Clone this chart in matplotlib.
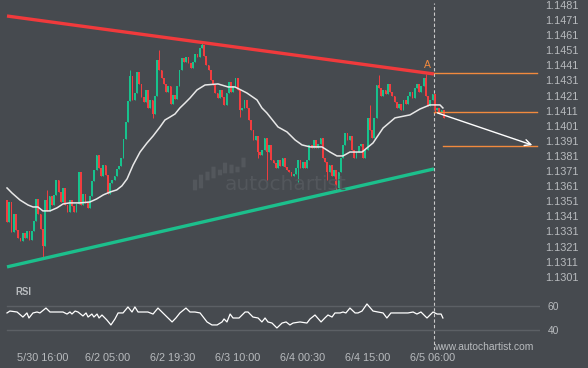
import matplotlib
matplotlib.use('Agg')
import matplotlib.pyplot as plt
from matplotlib.patches import FancyBboxPatch
import numpy as np

# ---- data (30 min candles, index 0 = first candle) ----

first_open = 1.13518
closes = [
    1.13373, 1.13505, 1.13307, 1.13426, 1.13320, 1.13267, 1.13247, 1.13300, 1.13267, 1.13313,
    1.13254, 1.13313, 1.13379, 1.13525, 1.13426, 1.13326, 1.13214, 1.13518, 1.13446, 1.13545,
    1.13485, 1.13552, 1.13651, 1.13571, 1.13505, 1.13598, 1.13485, 1.13439, 1.13518, 1.13479,
    1.13439, 1.13492, 1.13704, 1.13485, 1.13558, 1.13499, 1.13466, 1.13545, 1.13644, 1.13717,
    1.13817, 1.13730, 1.13677, 1.13750, 1.13684, 1.13558, 1.13631, 1.13651, 1.13677, 1.13724,
    1.13744, 1.13797, 1.13922, 1.14035, 1.14174, 1.14340, 1.14181, 1.14227, 1.14366, 1.14287,
    1.14201, 1.14168, 1.14247, 1.14128, 1.14181, 1.14088, 1.14207, 1.14446, 1.14379, 1.14326,
    1.14287, 1.14234, 1.14273, 1.14154, 1.14214, 1.14187, 1.14273, 1.14379, 1.14459, 1.14432,
    1.14466, 1.14426, 1.14393, 1.14432, 1.14485, 1.14466, 1.14525, 1.14545, 1.14472, 1.14413,
    1.14379, 1.14313, 1.14280, 1.14227, 1.14194, 1.14247, 1.14201, 1.14148, 1.14227, 1.14300,
    1.14234, 1.14273, 1.14326, 1.14247, 1.14115, 1.14128, 1.14181, 1.14128, 1.14048, 1.13982,
    1.13916, 1.13942, 1.13836, 1.13817, 1.13850, 1.13929, 1.13836, 1.13883, 1.13783, 1.13764,
    1.13730, 1.13783, 1.13744, 1.13797, 1.13737, 1.13717, 1.13704, 1.13677, 1.13691, 1.13730,
    1.13783, 1.13730, 1.13770, 1.13730, 1.13783, 1.13883, 1.13863, 1.13916, 1.13863, 1.13889,
    1.13929, 1.13797, 1.13770, 1.13704, 1.13750, 1.13677, 1.13717, 1.13598, 1.13704, 1.13797,
    1.13883, 1.13962, 1.13916, 1.13942, 1.13850, 1.13797, 1.13836, 1.13876, 1.13889, 1.13797,
    1.13850, 1.14062, 1.13982, 1.13929, 1.14062, 1.14280, 1.14260, 1.14207, 1.14247, 1.14220,
    1.14287, 1.14234, 1.14207, 1.14168, 1.14128, 1.14154, 1.14115, 1.14181, 1.14154, 1.14207,
    1.14234, 1.14194, 1.14260, 1.14287, 1.14234, 1.14273, 1.14326, 1.14207, 1.14141, 1.14181,
    1.14220, 1.14115, 1.14128, 1.14101, 1.14115, 1.14062,
]

# long wicks
hi_idx = [18, 55, 68, 87, 162, 166, 187]
hi_val = [1.13585, 1.14380, 1.14512, 1.14558, 1.14148, 1.14347, 1.14353]
lo_idx = [16, 65, 104, 112, 116, 130, 143, 147, 191]
lo_val = [1.13135, 1.14062, 1.14068, 1.13797, 1.13651, 1.13638, 1.13651, 1.13572, 1.14095]

# moving average (white line)
ma_idx = [0, 2.2, 5.8, 9.4, 11.6, 13.8, 16, 19.2, 22.3, 25, 28, 32.6, 37, 40, 43, 46, 49, 51.3,
          53.6, 56.3, 59.4, 62.5, 65.2, 68.3, 70.5, 72.8, 75, 77.2, 79.5, 81.7, 84.8, 88.4, 94.2,
          98.7, 101.8, 107.1, 111.6, 113.8, 116, 121, 125, 128.6, 131.7, 135.3, 140.6, 144.2,
          147.3, 150, 153.1, 158.5, 160.7, 163.4, 167.9, 173.2, 179.9, 184.4, 188.8, 193.3, 194.6]
ma_val = [1.13598, 1.13565, 1.13518, 1.13485, 1.13472, 1.13472, 1.13446, 1.13446, 1.13466,
          1.13492, 1.13499, 1.13499, 1.13505, 1.13525, 1.13552, 1.13571, 1.13585, 1.13612,
          1.13658, 1.13750, 1.13836, 1.13896, 1.13942, 1.14002, 1.14048, 1.14068, 1.14088,
          1.14128, 1.14161, 1.14194, 1.14247, 1.14280, 1.14287, 1.14267, 1.14267, 1.14227,
          1.14181, 1.14128, 1.14095, 1.14002, 1.13969, 1.13916, 1.13883, 1.13870, 1.13870,
          1.13836, 1.13810, 1.13810, 1.13836, 1.13836, 1.13863, 1.13896, 1.13995, 1.14062,
          1.14082, 1.14121, 1.14148, 1.14148, 1.14128]

# RSI
rsi_idx = [0, 1.3, 4.5, 7.1, 8.9, 9.8, 11.6, 13.4, 14.7, 17.4, 19.2, 25, 26.8, 28.1, 29, 30.4,
           31.7, 33.9, 35.3, 36.2, 37.9, 38.8, 40.2, 41.1, 42.4, 44.6, 46.4, 48.2, 49.6, 51.8, 54,
           55.8, 57.1, 58.5, 62.9, 65.2, 67.4, 69.6, 71.9, 73.7, 75.4, 77.2, 79.9, 81.7, 83.9,
           86.2, 89.3, 91.5, 93.8, 96, 96.9, 98.2, 99.6, 100.9, 103.6, 106.3, 107.6, 109.8,
           112.1, 113.8, 115.2, 116.5, 118.3, 120.5, 122.8, 124.6, 126.3, 127.7, 130.8, 133.9,
           135.3, 137.5, 140.2, 141.9, 143.3, 145.1, 146.4, 148.7, 150, 151.3, 153.1, 155.4,
           156.7, 158.5, 160.7, 163.4, 165.6, 167.9, 169.6, 171.4, 175.4, 179, 181.3, 183,
           184.8, 187.5, 190.2, 192, 193.8, 194.6]
rsi_val = [54.2, 55.8, 55.0, 50.8, 54.2, 50.0, 54.2, 55.0, 54.2, 58.3, 55.0, 55.0, 53.3, 55.0,
           53.3, 55.8, 55.0, 51.7, 54.2, 50.8, 53.3, 50.8, 53.3, 50.0, 52.5, 48.3, 44.2, 49.2,
           54.2, 54.2, 59.2, 55.0, 59.2, 55.0, 55.0, 53.3, 58.3, 54.2, 50.0, 46.7, 50.0, 54.2,
           58.3, 55.0, 55.0, 54.2, 46.7, 44.2, 44.2, 46.7, 49.2, 46.7, 53.3, 50.0, 50.0, 55.0,
           55.0, 50.8, 50.0, 46.7, 50.0, 46.7, 45.8, 41.7, 45.8, 46.7, 44.2, 45.8, 46.7, 45.8,
           49.2, 52.5, 46.7, 50.0, 52.5, 50.8, 54.2, 54.2, 55.0, 54.2, 58.3, 54.2, 54.2, 55.8,
           61.7, 55.8, 55.0, 54.2, 50.0, 54.2, 54.2, 54.2, 55.0, 53.3, 55.0, 50.0, 55.0, 53.3,
           53.3, 50.0]

# pattern lines
resist_idx = [0, 190.6]
resist_val = [1.14737, 1.14353]
support_idx = [0, 190.6]
support_val = [1.13075, 1.13724]
breakout_idx = 190.6
levels_val = [1.14360, 1.14101]
target_val = 1.13876
proj_idx = [191, 235.7]
proj_val = [1.14101, 1.13876]

tick_idx = [16, 45, 74, 103, 132, 161, 190]
tick_labels = ['5/30 16:00', '6/2 05:00', '6/2 19:30', '6/3 10:00', '6/4 00:30', '6/4 15:00', '6/5 06:00']
price_ticks = [1.1301 + 0.001 * k for k in range(19)]

# ---- style ----
bg = '#464a4f'
txt = '#b8bbbe'
up = '#17c28d'
down = '#f23d3f'
orange = '#f28a3e'
plt.rcParams['font.family'] = ['Liberation Sans', 'DejaVu Sans']

W, H = 588, 368
fig = plt.figure(figsize=(W / 100, H / 100), dpi=100, facecolor=bg)
ax = fig.add_axes([0, 1 - 282 / H, 540 / W, 282 / H], facecolor=bg)
rsi = fig.add_axes([0, 1 - 350 / H, 540 / W, 68 / H], facecolor=bg)

xlim = (-3.125, 237.95)
for a in (ax, rsi):
    a.set_xlim(*xlim)
    for s in a.spines.values():
        s.set_visible(False)
ax.set_ylim(1.12975, 1.14843)
rsi.set_ylim(23.33, 80)

# watermark
wm_bars = [(195, 180, 190), (201, 175, 188), (207.5, 172, 180), (213.5, 167, 178), (220, 170, 175),
           (225, 163, 173), (231.5, 165, 173), (237.5, 167, 172), (243.5, 158, 167)]
for xc, top, bot in wm_bars:
    fig.patches.append(FancyBboxPatch(((xc - 1.5) / W, 1 - bot / H), 3 / W, (bot - top) / H,
                                      boxstyle='round,pad=0.001', transform=fig.transFigure,
                                      fc='#53575c', ec='none', zorder=0))
fig.text(286 / W, 1 - 184 / H, 'autochartist', color='#53575c', fontsize=14.5,
         family='DejaVu Sans', ha='center', va='center', zorder=0)

# candles
closes = np.array(closes)
opens = np.concatenate([[first_open], closes[:-1]])
highs = np.maximum(opens, closes)
lows = np.minimum(opens, closes)
highs[hi_idx] = hi_val
lows[lo_idx] = lo_val
idx = np.arange(len(closes))
cols = np.where(closes >= opens, up, down)
ax.vlines(idx, lows, highs, colors=cols, lw=0.7, zorder=3)
body = np.maximum(np.abs(closes - opens), 0.00004)
ax.bar(idx, body, bottom=np.minimum(opens, closes), width=0.8, color=cols, lw=0, zorder=3)

# moving average
ax.plot(ma_idx, ma_val, color='#e8e8e8', lw=1.1, zorder=4)

# triangle lines
ax.plot(resist_idx, resist_val, color='#f03a3c', lw=2.4, zorder=5, solid_capstyle='butt')
ax.plot(support_idx, support_val, color='#1cbf8c', lw=2.4, zorder=5, solid_capstyle='butt')

# breakout levels and forecast
for v in levels_val:
    ax.plot([breakout_idx, 236.6], [v, v], color=orange, lw=1, zorder=4)
ax.plot([194.6, 236.6], [target_val, target_val], color=orange, lw=1, zorder=4)
ax.annotate('', xy=(proj_idx[1], proj_val[1]), xytext=(proj_idx[0], proj_val[0]),
            arrowprops=dict(arrowstyle='->', color='white', lw=1, mutation_scale=11), zorder=6)
ax.text(187.5, 1.14380, 'A', color=orange, fontsize=7.5, ha='center', va='bottom')

ax.axvline(breakout_idx, ymax=0.99, color='#c9c9c9', lw=0.8, ls=(0, (3, 2)), zorder=2)
rsi.axvline(breakout_idx, color='#c9c9c9', lw=0.8, ls=(0, (3, 2)), zorder=2)

# price axis
ax.set_yticks(price_ticks)
ax.set_yticklabels(['%.4f' % p for p in price_ticks])
ax.yaxis.tick_right()
ax.tick_params(axis='y', length=0, pad=3.4, labelsize=7.8, labelcolor=txt)
ax.set_xticks([])

# RSI panel
rsi.plot([0, xlim[1]], [60, 60], color='#5c6065', lw=1)
rsi.plot([0, xlim[1]], [40, 40], color='#5c6065', lw=1)
rsi.plot(rsi_idx, rsi_val, color='white', lw=0.9)
rsi.set_yticks([40, 60])
rsi.set_yticklabels(['40', '60'])
rsi.yaxis.tick_right()
rsi.tick_params(axis='y', length=0, pad=5.5, labelsize=7.4, labelcolor=txt)
rsi.set_xticks(tick_idx)
rsi.set_xticklabels(tick_labels)
rsi.tick_params(axis='x', length=0, pad=2.2, labelsize=7.8, labelcolor=txt)
rsi.text(0.028, 0.86, 'RSI', transform=rsi.transAxes, color=txt, fontsize=6.9,
         fontweight='bold', va='center')
rsi.text(190.6, 25.5, 'www.autochartist.com', color=txt, fontsize=7.4, ha='left', va='center')

fig.savefig('out.png', dpi=100, facecolor=bg)
